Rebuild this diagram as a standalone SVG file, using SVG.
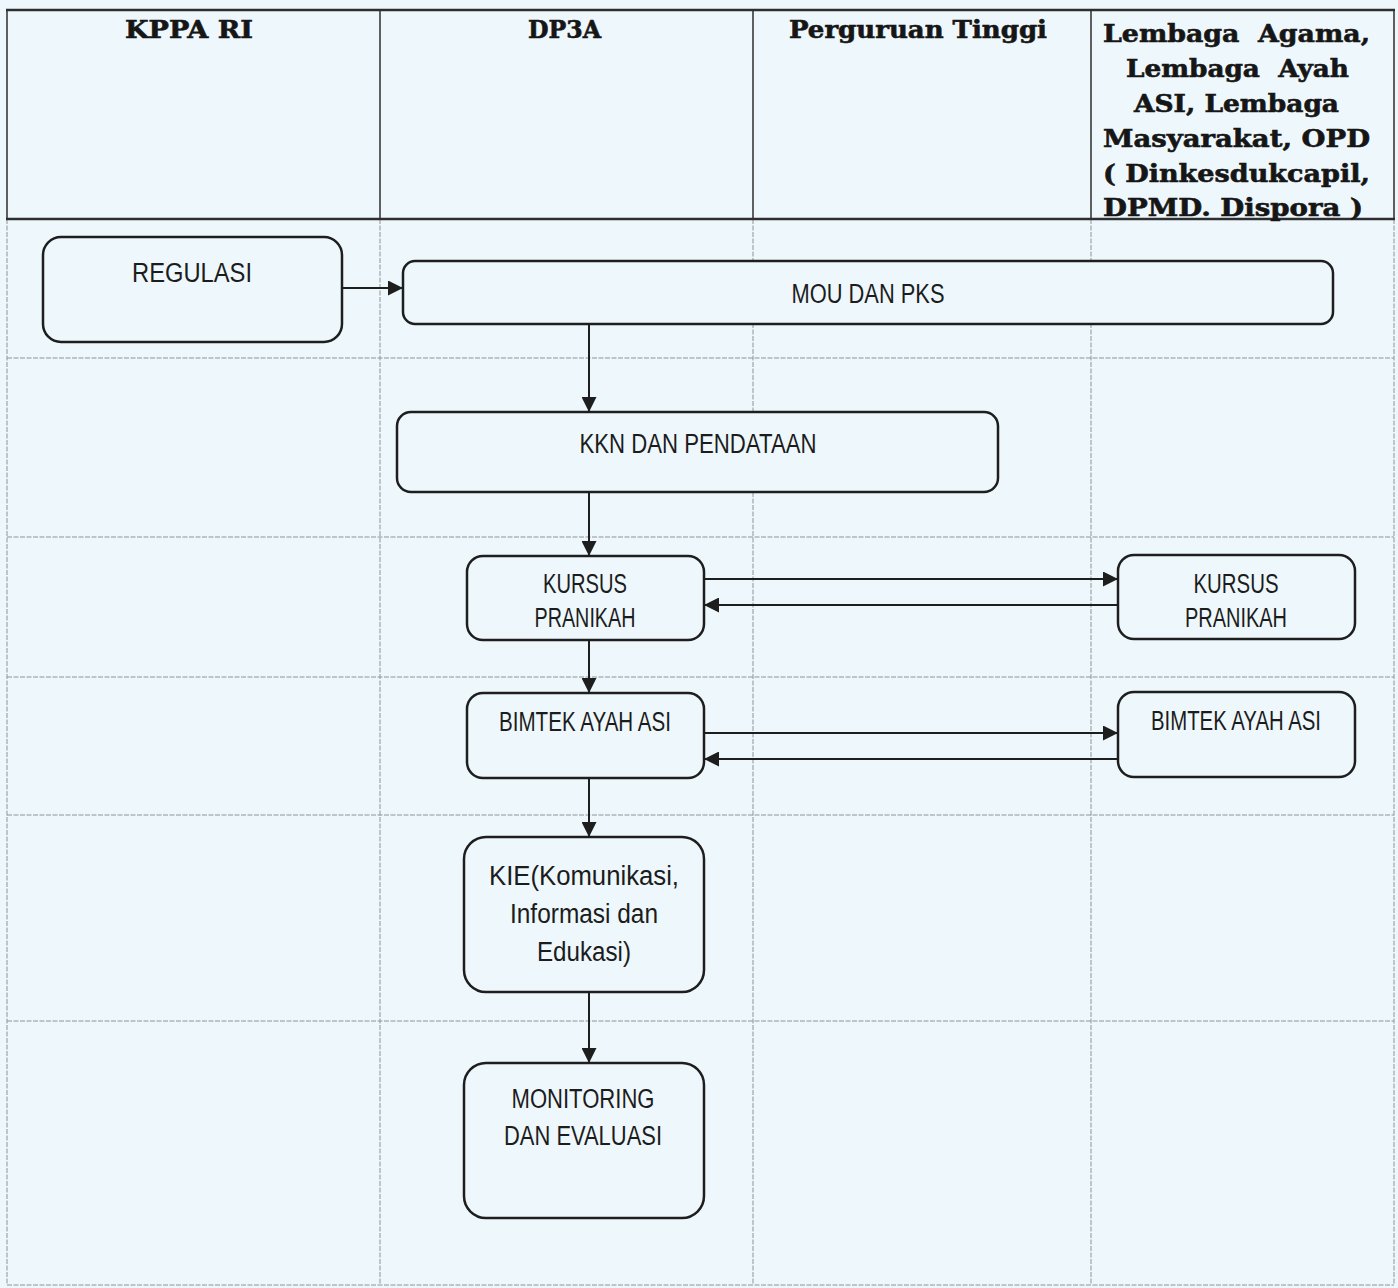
<svg xmlns="http://www.w3.org/2000/svg" width="1398" height="1288" viewBox="0 0 1398 1288">
  <style>
    .hdr { font-family: "DejaVu Serif", "Liberation Serif", serif; font-weight: bold; font-size: 24px; fill: #161616; stroke: #161616; stroke-width: 0.6; white-space: pre; }
    .lbl { font-family: "Liberation Sans", Arial, sans-serif; font-size: 27px; fill: #1c1c1c; text-anchor: middle; }
    .node { fill: #eef8fc; stroke: #1e1e1e; stroke-width: 2.5; }
    .grid { stroke: #8e939a; stroke-width: 1; fill: none; stroke-dasharray: 5 1.5; }
    .hgrid { stroke: #3a3a3a; stroke-width: 1.6; fill: none; }
    .hedge { stroke: #2e2e2e; stroke-width: 2.5; fill: none; }
    .conn { stroke: #1e1e1e; stroke-width: 2; fill: none; }
  </style>
  <defs>
    <marker id="arrow" markerUnits="userSpaceOnUse" markerWidth="15" markerHeight="15" refX="15" refY="7.5" orient="auto">
      <path d="M0,0 L15,7.5 L0,15 Z" fill="#1e1e1e"/>
    </marker>
  </defs>

  <!-- page -->
  <rect x="0" y="0" width="1398" height="1288" fill="#eef8fc"/>

  <!-- table body grid -->
  <g id="table-grid">
    <path class="grid" d="M7,219 V1285 M380,219 V1285 M753,219 V1285 M1091,219 V1285 M1394,219 V1285"/>
    <path class="grid" d="M7,358 H1394 M7,537 H1394 M7,677 H1394 M7,815 H1394 M7,1021 H1394 M7,1285 H1394"/>
  </g>

  <!-- header row -->
  <g id="header">
    <path class="hgrid" d="M7,10 V219 M380,10 V219 M753,10 V219 M1091,10 V219 M1394,10 V219"/>
    <path class="hedge" d="M6,10 H1395 M6,219 H1395"/>
    <text class="hdr" x="125" y="38" textLength="128" lengthAdjust="spacingAndGlyphs">KPPA RI</text>
    <text class="hdr" x="528" y="38" textLength="73" lengthAdjust="spacingAndGlyphs">DP3A</text>
    <text class="hdr" x="789" y="38" textLength="258" lengthAdjust="spacingAndGlyphs">Perguruan Tinggi</text>
    <text class="hdr" x="1103" y="42" textLength="267" lengthAdjust="spacingAndGlyphs">Lembaga  Agama,</text>
    <text class="hdr" x="1126" y="77" textLength="223" lengthAdjust="spacingAndGlyphs">Lembaga  Ayah</text>
    <text class="hdr" x="1134" y="112" textLength="205" lengthAdjust="spacingAndGlyphs">ASI, Lembaga</text>
    <text class="hdr" x="1103" y="147" textLength="267" lengthAdjust="spacingAndGlyphs">Masyarakat, OPD</text>
    <text class="hdr" x="1103" y="182" textLength="267" lengthAdjust="spacingAndGlyphs">( Dinkesdukcapil,</text>
    <text class="hdr" x="1103" y="216" textLength="260" lengthAdjust="spacingAndGlyphs">DPMD. Dispora )</text>
  </g>

  <!-- connectors -->
  <g id="connectors">
    <path class="conn" d="M342,288 H403" marker-end="url(#arrow)"/>
    <path class="conn" d="M589,324 V412" marker-end="url(#arrow)"/>
    <path class="conn" d="M589,492 V556" marker-end="url(#arrow)"/>
    <path class="conn" d="M589,640 V693" marker-end="url(#arrow)"/>
    <path class="conn" d="M589,778 V837" marker-end="url(#arrow)"/>
    <path class="conn" d="M589,992 V1063" marker-end="url(#arrow)"/>
    <path class="conn" d="M704,579 H1118" marker-end="url(#arrow)"/>
    <path class="conn" d="M1118,605 H704" marker-end="url(#arrow)"/>
    <path class="conn" d="M704,733 H1118" marker-end="url(#arrow)"/>
    <path class="conn" d="M1118,759 H704" marker-end="url(#arrow)"/>
  </g>

  <!-- nodes -->
  <g id="regulasi">
    <rect class="node" x="43" y="237" width="299" height="105" rx="18"/>
    <text class="lbl" x="192" y="282" textLength="120" lengthAdjust="spacingAndGlyphs">REGULASI</text>
  </g>
  <g id="mou-pks">
    <rect class="node" x="403" y="261" width="930" height="63" rx="12"/>
    <text class="lbl" x="868" y="303" textLength="153" lengthAdjust="spacingAndGlyphs">MOU DAN PKS</text>
  </g>
  <g id="kkn-pendataan">
    <rect class="node" x="397" y="412" width="601" height="80" rx="14"/>
    <text class="lbl" x="698" y="453" textLength="237" lengthAdjust="spacingAndGlyphs">KKN DAN PENDATAAN</text>
  </g>
  <g id="kursus-dp3a">
    <rect class="node" x="467" y="556" width="237" height="84" rx="16"/>
    <text class="lbl" x="585" y="593" textLength="84" lengthAdjust="spacingAndGlyphs">KURSUS</text>
    <text class="lbl" x="585" y="627" textLength="101" lengthAdjust="spacingAndGlyphs">PRANIKAH</text>
  </g>
  <g id="kursus-lembaga">
    <rect class="node" x="1118" y="555" width="237" height="84" rx="16"/>
    <text class="lbl" x="1236" y="593" textLength="85" lengthAdjust="spacingAndGlyphs">KURSUS</text>
    <text class="lbl" x="1236" y="627" textLength="102" lengthAdjust="spacingAndGlyphs">PRANIKAH</text>
  </g>
  <g id="bimtek-dp3a">
    <rect class="node" x="467" y="693" width="237" height="85" rx="16"/>
    <text class="lbl" x="585" y="731" textLength="172" lengthAdjust="spacingAndGlyphs">BIMTEK AYAH ASI</text>
  </g>
  <g id="bimtek-lembaga">
    <rect class="node" x="1118" y="692" width="237" height="85" rx="16"/>
    <text class="lbl" x="1236" y="730" textLength="170" lengthAdjust="spacingAndGlyphs">BIMTEK AYAH ASI</text>
  </g>
  <g id="kie">
    <rect class="node" x="464" y="837" width="240" height="155" rx="22"/>
    <text class="lbl" x="584" y="885" textLength="190" lengthAdjust="spacingAndGlyphs">KIE(Komunikasi,</text>
    <text class="lbl" x="584" y="923" textLength="148" lengthAdjust="spacingAndGlyphs">Informasi dan</text>
    <text class="lbl" x="584" y="961" textLength="94" lengthAdjust="spacingAndGlyphs">Edukasi)</text>
  </g>
  <g id="monitoring">
    <rect class="node" x="464" y="1063" width="240" height="155" rx="22"/>
    <text class="lbl" x="583" y="1108" textLength="143" lengthAdjust="spacingAndGlyphs">MONITORING</text>
    <text class="lbl" x="583" y="1145" textLength="158" lengthAdjust="spacingAndGlyphs">DAN EVALUASI</text>
  </g>
</svg>
